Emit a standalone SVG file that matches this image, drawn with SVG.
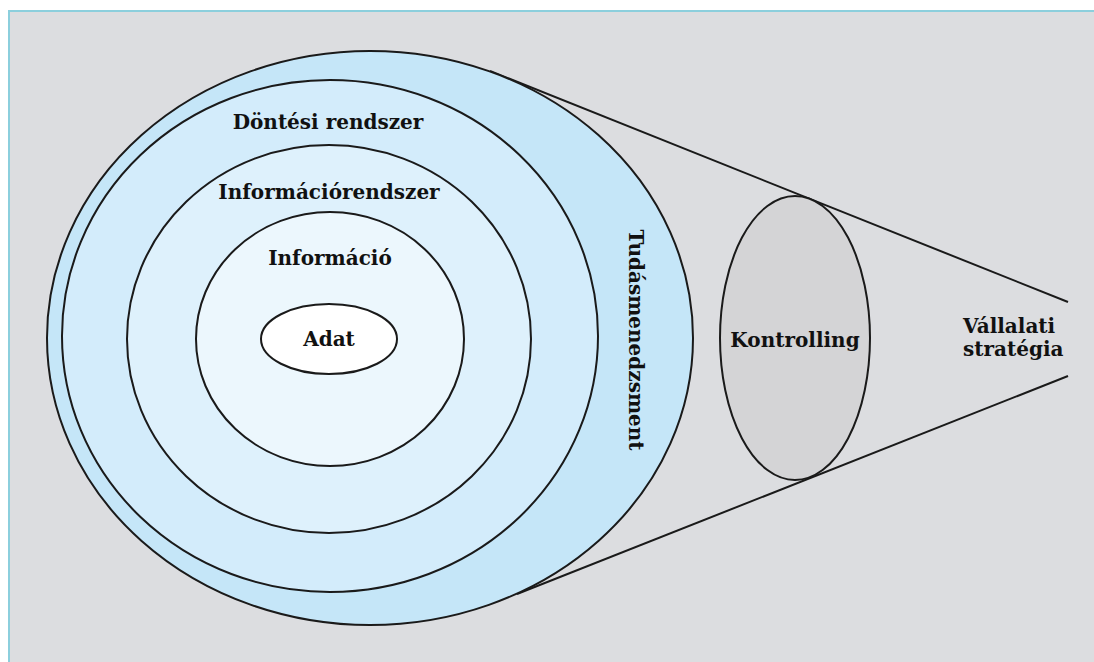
<svg xmlns="http://www.w3.org/2000/svg" width="1094" height="662" viewBox="0 0 1094 662">
<style>
.ln{fill:none;stroke:#1a1a1a;stroke-width:2}
.el{stroke:#1a1a1a;stroke-width:2}
.t{font-family:"DejaVu Serif","Liberation Serif",serif;font-weight:bold;font-size:20px;fill:#111111;text-anchor:middle}
.s{text-anchor:start}
</style>
<rect x="0" y="0" width="1094" height="662" fill="#ffffff"/>
<rect x="9" y="11" width="1090" height="660" fill="#dcdde0" stroke="#8ccfdd" stroke-width="2"/>
<g id="connectors">
<line class="ln" x1="490" y1="71" x2="1068" y2="302"/>
<line class="ln" x1="517" y1="594" x2="1068" y2="376"/>
</g>
<g id="tudasmenedzsment">
<ellipse class="el" cx="370" cy="338" rx="323" ry="287" fill="#c5e6f8"/>
<text class="t" transform="translate(629,340) rotate(90)">Tudásmenedzsment</text>
</g>
<g id="dontesi">
<ellipse class="el" cx="330" cy="336" rx="268" ry="256" fill="#d3ecfb"/>
<text class="t" x="328" y="129">Döntési rendszer</text>
</g>
<g id="informaciorendszer">
<ellipse class="el" cx="329" cy="339" rx="202" ry="194" fill="#def1fc"/>
<text class="t" x="329" y="199">Információrendszer</text>
</g>
<g id="informacio">
<ellipse class="el" cx="330" cy="339" rx="134" ry="127" fill="#ecf7fd"/>
<text class="t" x="330" y="265">Információ</text>
</g>
<g id="adat">
<ellipse class="el" cx="329" cy="339" rx="68" ry="35" fill="#ffffff"/>
<text class="t" x="329" y="346">Adat</text>
</g>
<g id="kontrolling">
<ellipse class="el" cx="795" cy="338" rx="75" ry="142" fill="#d4d4d6"/>
<text class="t" x="795" y="347">Kontrolling</text>
</g>
<g id="strategia">
<text class="t s" x="963" y="333">Vállalati</text>
<text class="t s" x="963" y="356">stratégia</text>
</g>
</svg>
